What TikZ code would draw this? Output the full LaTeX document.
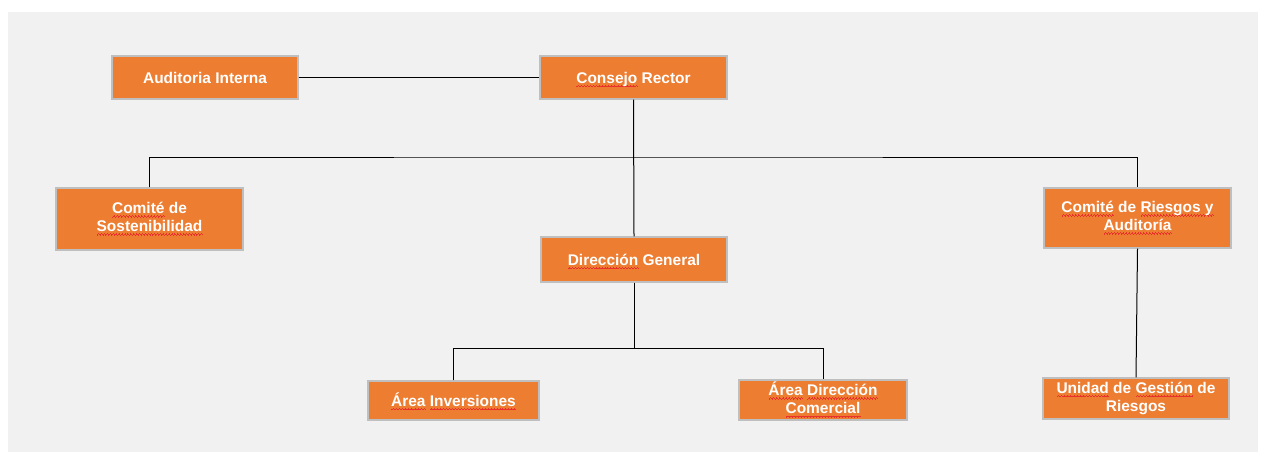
\documentclass[tikz,border=0pt]{standalone}
\usepackage{fontspec}
\setmainfont{Liberation Sans}
\definecolor{pagebg}{HTML}{F1F1F1}
\definecolor{boxfill}{HTML}{ED7D31}
\definecolor{boxline}{HTML}{BFBFBF}
\definecolor{squig}{HTML}{E8322B}
% red wavy underline for flagged words (small zigzag built from rules)
\newcommand\wavecell{\rule[0pt]{0.55pt}{0.65pt}\rule[0.55pt]{0.55pt}{0.65pt}\rule[1.1pt]{0.55pt}{0.65pt}\rule[0.55pt]{0.55pt}{0.65pt}}
\newcommand\spellmark[1]{\setbox0\hbox{#1}\leavevmode
  \rlap{\color{squig}\raisebox{-3pt}{\hbox to \wd0{\xleaders\hbox{\wavecell}\hfill}}}\box0\relax}
\tikzset{
  orgbox/.style={draw=boxline, line width=0.9pt, fill=boxfill, text=white,
    font=\fontsize{11.6}{13.6}\selectfont\bfseries, align=center, inner sep=0pt,
    execute at begin node={\rule{0pt}{11.5pt}},
    execute at end node={\rule[-3pt]{0pt}{0pt}}},
  link/.style={draw=black, line width=0.75pt}
}
\begin{document}
\begin{tikzpicture}[x=0.75pt, y=-0.75pt]
  \useasboundingbox (0,0) rectangle (1266,455);
  \fill[white] (0,0) rectangle (1266,455);
  \fill[pagebg] (8,12) rectangle (1258,452);

  % top row
  \node[orgbox, minimum width=139.5pt, minimum height=32.3pt] (aud) at (205,77.5) {Auditoria Interna};
  \node[orgbox, minimum width=140.3pt, minimum height=32.3pt] (cr) at (633.5,77.5) {\spellmark{Consejo} Rector};
  % committees
  \node[orgbox, minimum width=140.3pt, minimum height=46.5pt] (cs) at (149.5,219) {\spellmark{Comité} de\\\spellmark{Sostenibilidad}};
  \node[orgbox, minimum width=140.3pt, minimum height=45pt] (cra) at (1137.5,218) {\spellmark{Comité} de \spellmark{Riesgos y}\\\spellmark{Auditoría}};
  % management
  \node[orgbox, minimum width=139.5pt, minimum height=33.8pt] (dg) at (634,259.5) {\spellmark{Dirección} General};
  \node[orgbox, minimum width=128.3pt, minimum height=29.3pt] (ainv) at (453.5,400.5) {\spellmark{Área} \spellmark{Inversiones}};
  \node[orgbox, minimum width=126pt, minimum height=30pt] (adc) at (823,400) {\spellmark{Área} \spellmark{Dirección}\\\spellmark{Comercial}};
  \node[orgbox, minimum width=139.5pt, minimum height=30.8pt] (ugr) at (1136,398.5) {\spellmark{Unidad} de \spellmark{Gestión} de\\Riesgos};

  % bus junctions
  \coordinate (busA) at (633.5,157);
  \coordinate (busB) at (634,348);

  % connectors
  \draw[link] (aud.east) -- (cr.west);
  \draw[link] (cr.south) -- (dg.north);
  \draw[link] (cs.north) |- (busA) -| (cra.north);
  \draw[link] (dg.south) -- (busB);
  \draw[link] (ainv.north) |- (busB) -| (adc.north);
  \draw[link] (cra.south) -- (ugr.north);
\end{tikzpicture}
\end{document}
